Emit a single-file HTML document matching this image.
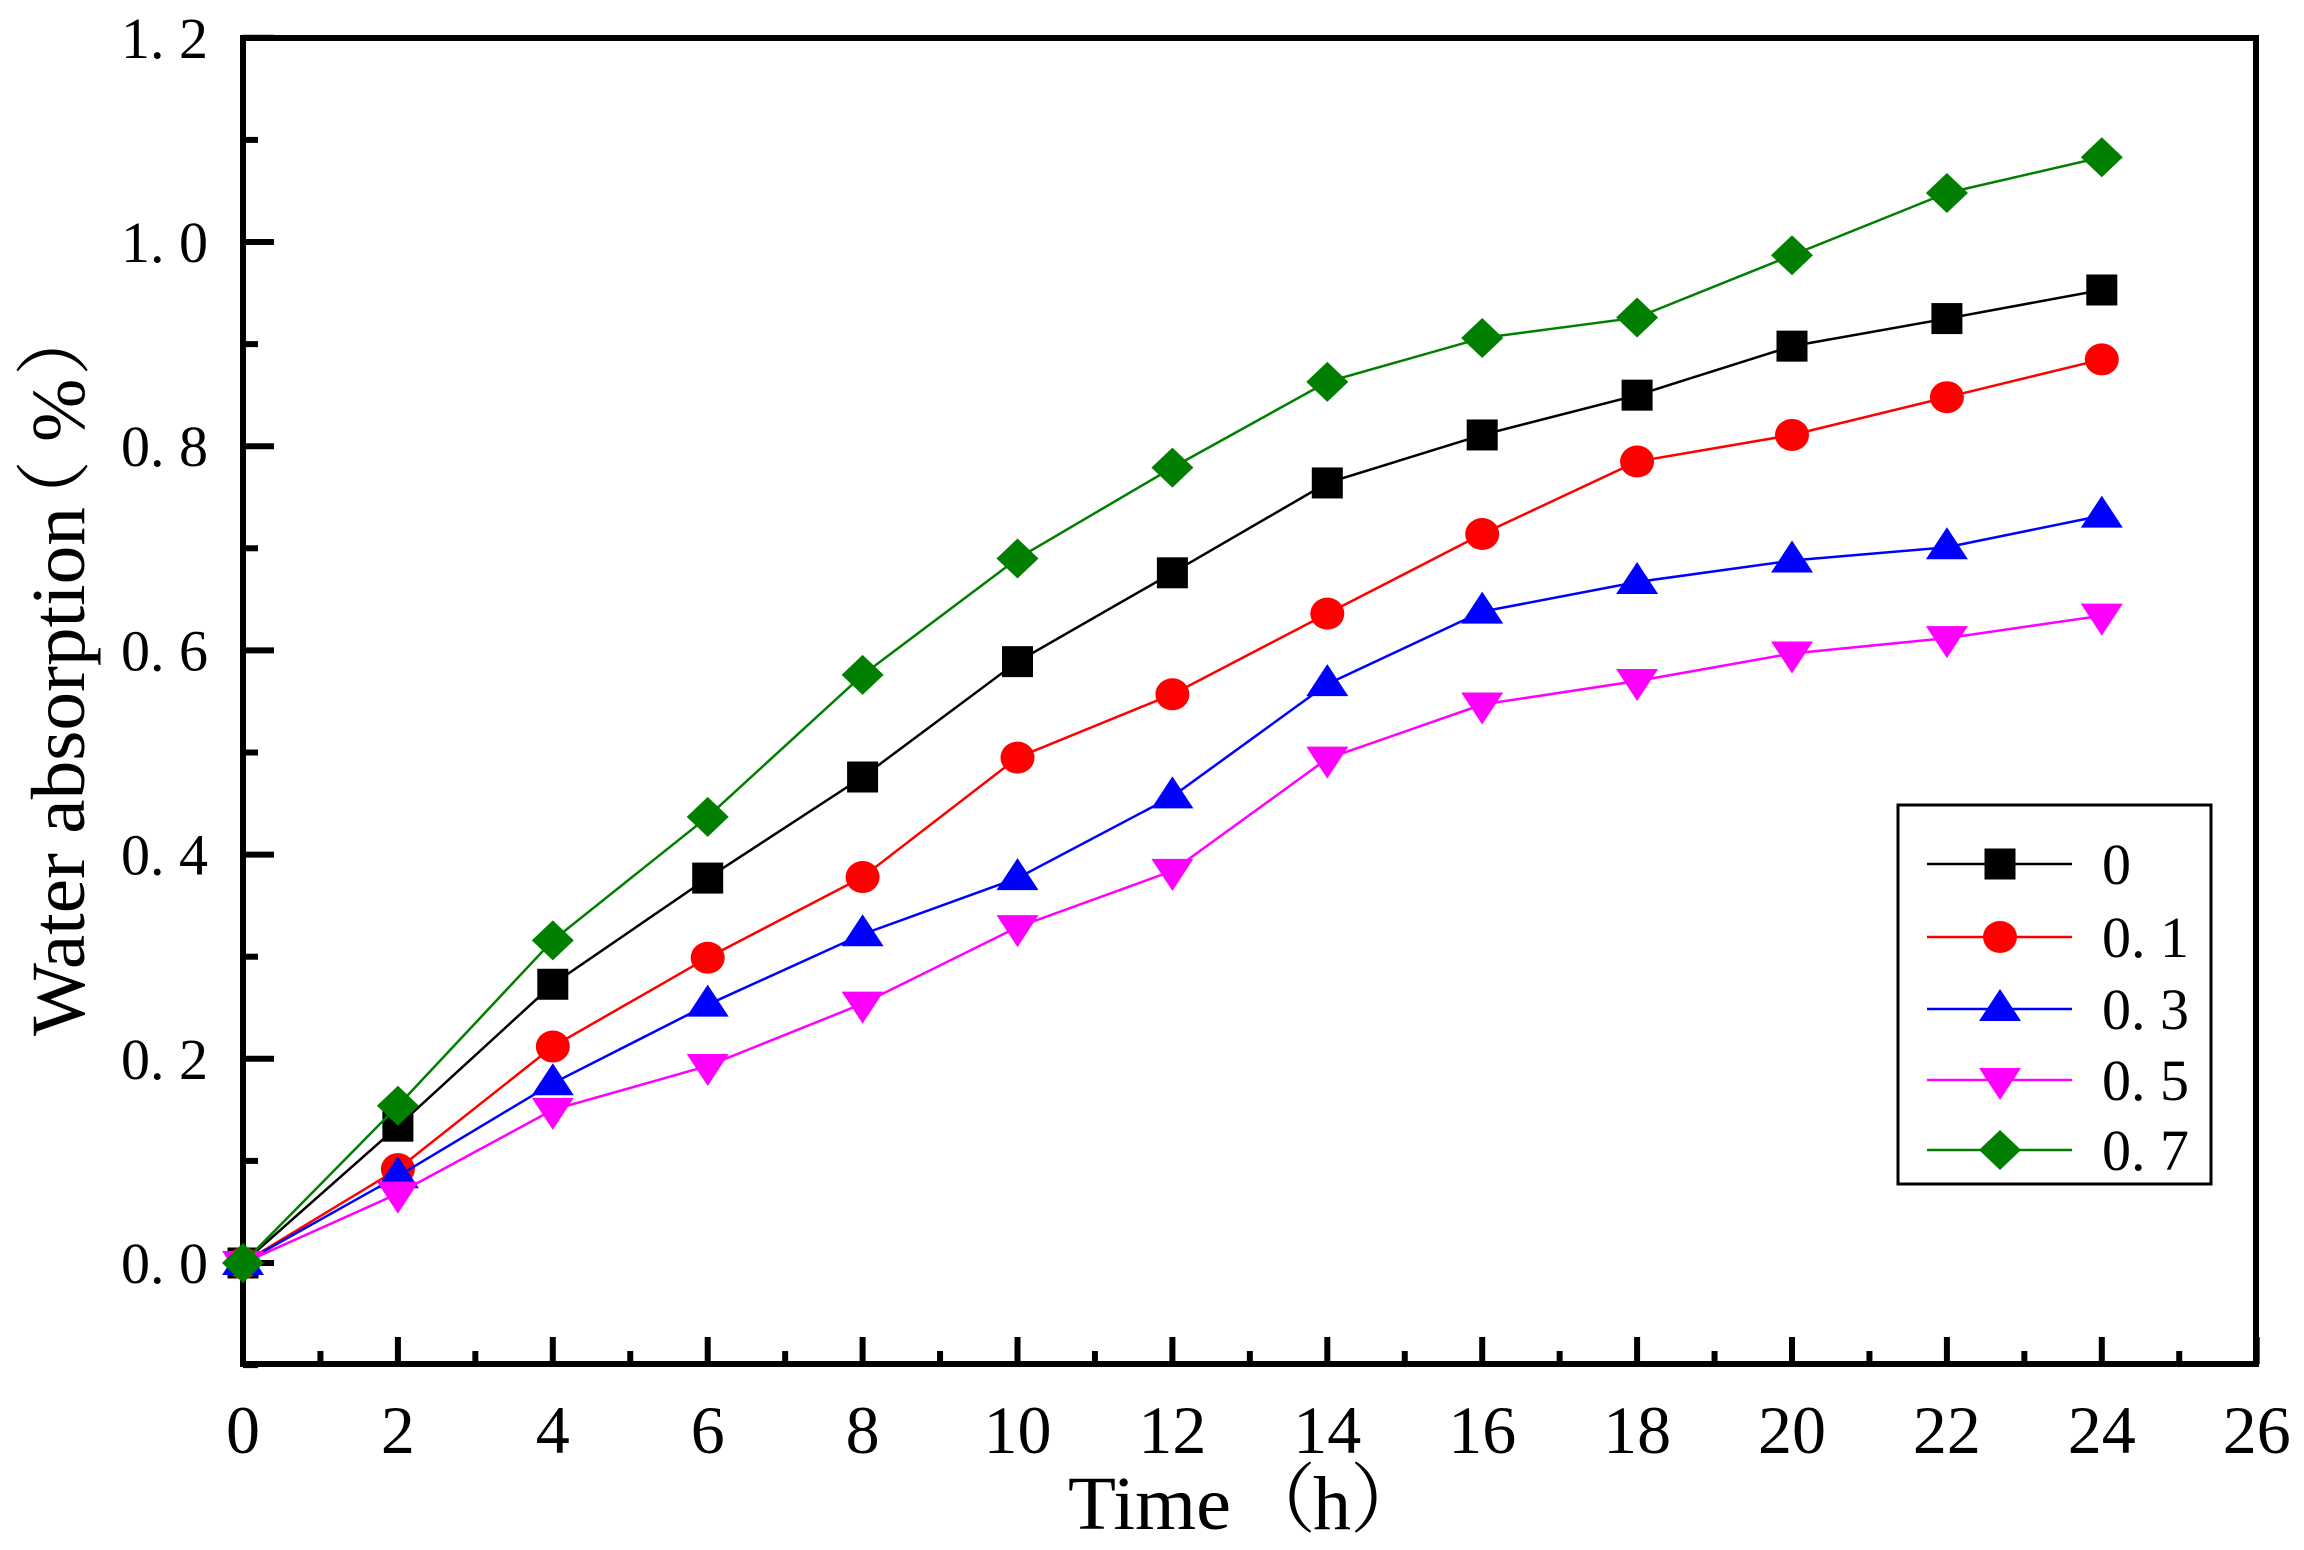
<!DOCTYPE html>
<html><head><meta charset="utf-8"><style>html,body{margin:0;padding:0;background:#fff;}svg{display:block}</style></head>
<body>
<svg id="s" width="2304" height="1550" viewBox="0 0 2304 1550" xmlns="http://www.w3.org/2000/svg" font-family="'Liberation Serif','Noto Serif CJK SC',serif"></svg>
<script>
const X0=243, PX=77.45, Y0=1263, PY=1021;
const xs=t=>X0+t*PX, ys=v=>Y0-v*PY;
const data=[
 {c:'#000000',m:'sq',v:[0,0.134,0.273,0.377,0.476,0.589,0.676,0.764,0.811,0.850,0.898,0.925,0.953]},
 {c:'#ff0000',m:'ci',v:[0,0.092,0.212,0.299,0.378,0.495,0.557,0.636,0.714,0.785,0.811,0.848,0.885]},
 {c:'#0000ff',m:'tu',v:[0,0.085,0.176,0.253,0.322,0.377,0.457,0.567,0.638,0.667,0.688,0.701,0.732]},
 {c:'#ff00ff',m:'td',v:[0,0.068,0.150,0.193,0.254,0.329,0.384,0.494,0.547,0.570,0.597,0.612,0.634]},
 {c:'#007f00',m:'di',v:[0,0.154,0.316,0.437,0.576,0.690,0.779,0.863,0.906,0.926,0.987,1.048,1.083]}
];
function mk(m,x,y,c){
 if(m=='sq')return `<rect x="${x-15.5}" y="${y-15.5}" width="31" height="31" fill="${c}"/>`;
 if(m=='ci')return `<ellipse cx="${x}" cy="${y}" rx="17" ry="16" fill="${c}"/>`;
 if(m=='tu')return `<polygon points="${x},${y-20} ${x+21},${y+12} ${x-21},${y+12}" fill="${c}"/>`;
 if(m=='td')return `<polygon points="${x},${y+20} ${x+21},${y-12} ${x-21},${y-12}" fill="${c}"/>`;
 return `<polygon points="${x},${y-20} ${x+21},${y} ${x},${y+20} ${x-21},${y}" fill="${c}"/>`;
}
let h='';
for(let i=0;i<=13;i++){h+=`<line x1="${xs(i*2)}" y1="1364" x2="${xs(i*2)}" y2="1337" stroke="#000" stroke-width="6"/>`;
 h+=`<text x="${xs(i*2)}" y="1453" font-size="68" text-anchor="middle">${i*2}</text>`;
 if(i<13)h+=`<line x1="${xs(i*2+1)}" y1="1364" x2="${xs(i*2+1)}" y2="1351" stroke="#000" stroke-width="6"/>`;}
for(let k=-1;k<=12;k++){const y=ys(k/10);const maj=k>=0&&k%2==0;
 h+=`<line x1="243" y1="${y}" x2="${maj?274:258}" y2="${y}" stroke="#000" stroke-width="6"/>`;
 if(maj){const v=(k/10).toFixed(1).replace('.','. ');h+=`<text x="208" y="${y+20}" font-size="58" text-anchor="end" xml:space="preserve">${v}</text>`;}}
h+=`<path d="M243,38 L2256,38 L2256,1364 L243,1364 Z" fill="none" stroke="#000" stroke-width="6"/>`;
for(const d of data){let p=d.v.map((v,i)=>`${xs(i*2)},${ys(v)}`).join(' ');
 h+=`<polyline points="${p}" fill="none" stroke="${d.c}" stroke-width="2.5"/>`;
 d.v.forEach((v,i)=>h+=mk(d.m,xs(i*2),ys(v),d.c));}
h+=`<rect x="1898" y="805" width="313" height="379" fill="#fff" stroke="#000" stroke-width="3"/>`;
const labs=['0','0. 1','0. 3','0. 5','0. 7'],ly=[864,937,1009,1080,1150];
data.forEach((d,i)=>{h+=`<line x1="1927" y1="${ly[i]}" x2="2072" y2="${ly[i]}" stroke="${d.c}" stroke-width="2.5"/>`+mk(d.m,2000,ly[i],d.c)+
 `<text x="2102" y="${ly[i]+20}" font-size="58" xml:space="preserve">${labs[i]}</text>`;});
// x title
h+=`<text x="1068" y="1529" font-size="76" textLength="163" lengthAdjust="spacingAndGlyphs">Time</text>`;
h+=`<text x="1240" y="1526" font-size="76">（</text>`;
h+=`<text x="1313" y="1529" font-size="76">h</text>`;
h+=`<text x="1350" y="1526" font-size="76">）</text>`;
// y title
h+=`<g transform="translate(84,1036) rotate(-90)">`+
 `<text x="0" y="0" font-size="76" textLength="529" lengthAdjust="spacingAndGlyphs">Water absorption</text>`+
 `<text x="500" y="-3" font-size="76">（</text>`+
 `<text x="594" y="0" font-size="76">%</text>`+
 `<text x="660" y="-3" font-size="76">）</text></g>`;
document.getElementById('s').innerHTML=h;
</script>
</body></html>
